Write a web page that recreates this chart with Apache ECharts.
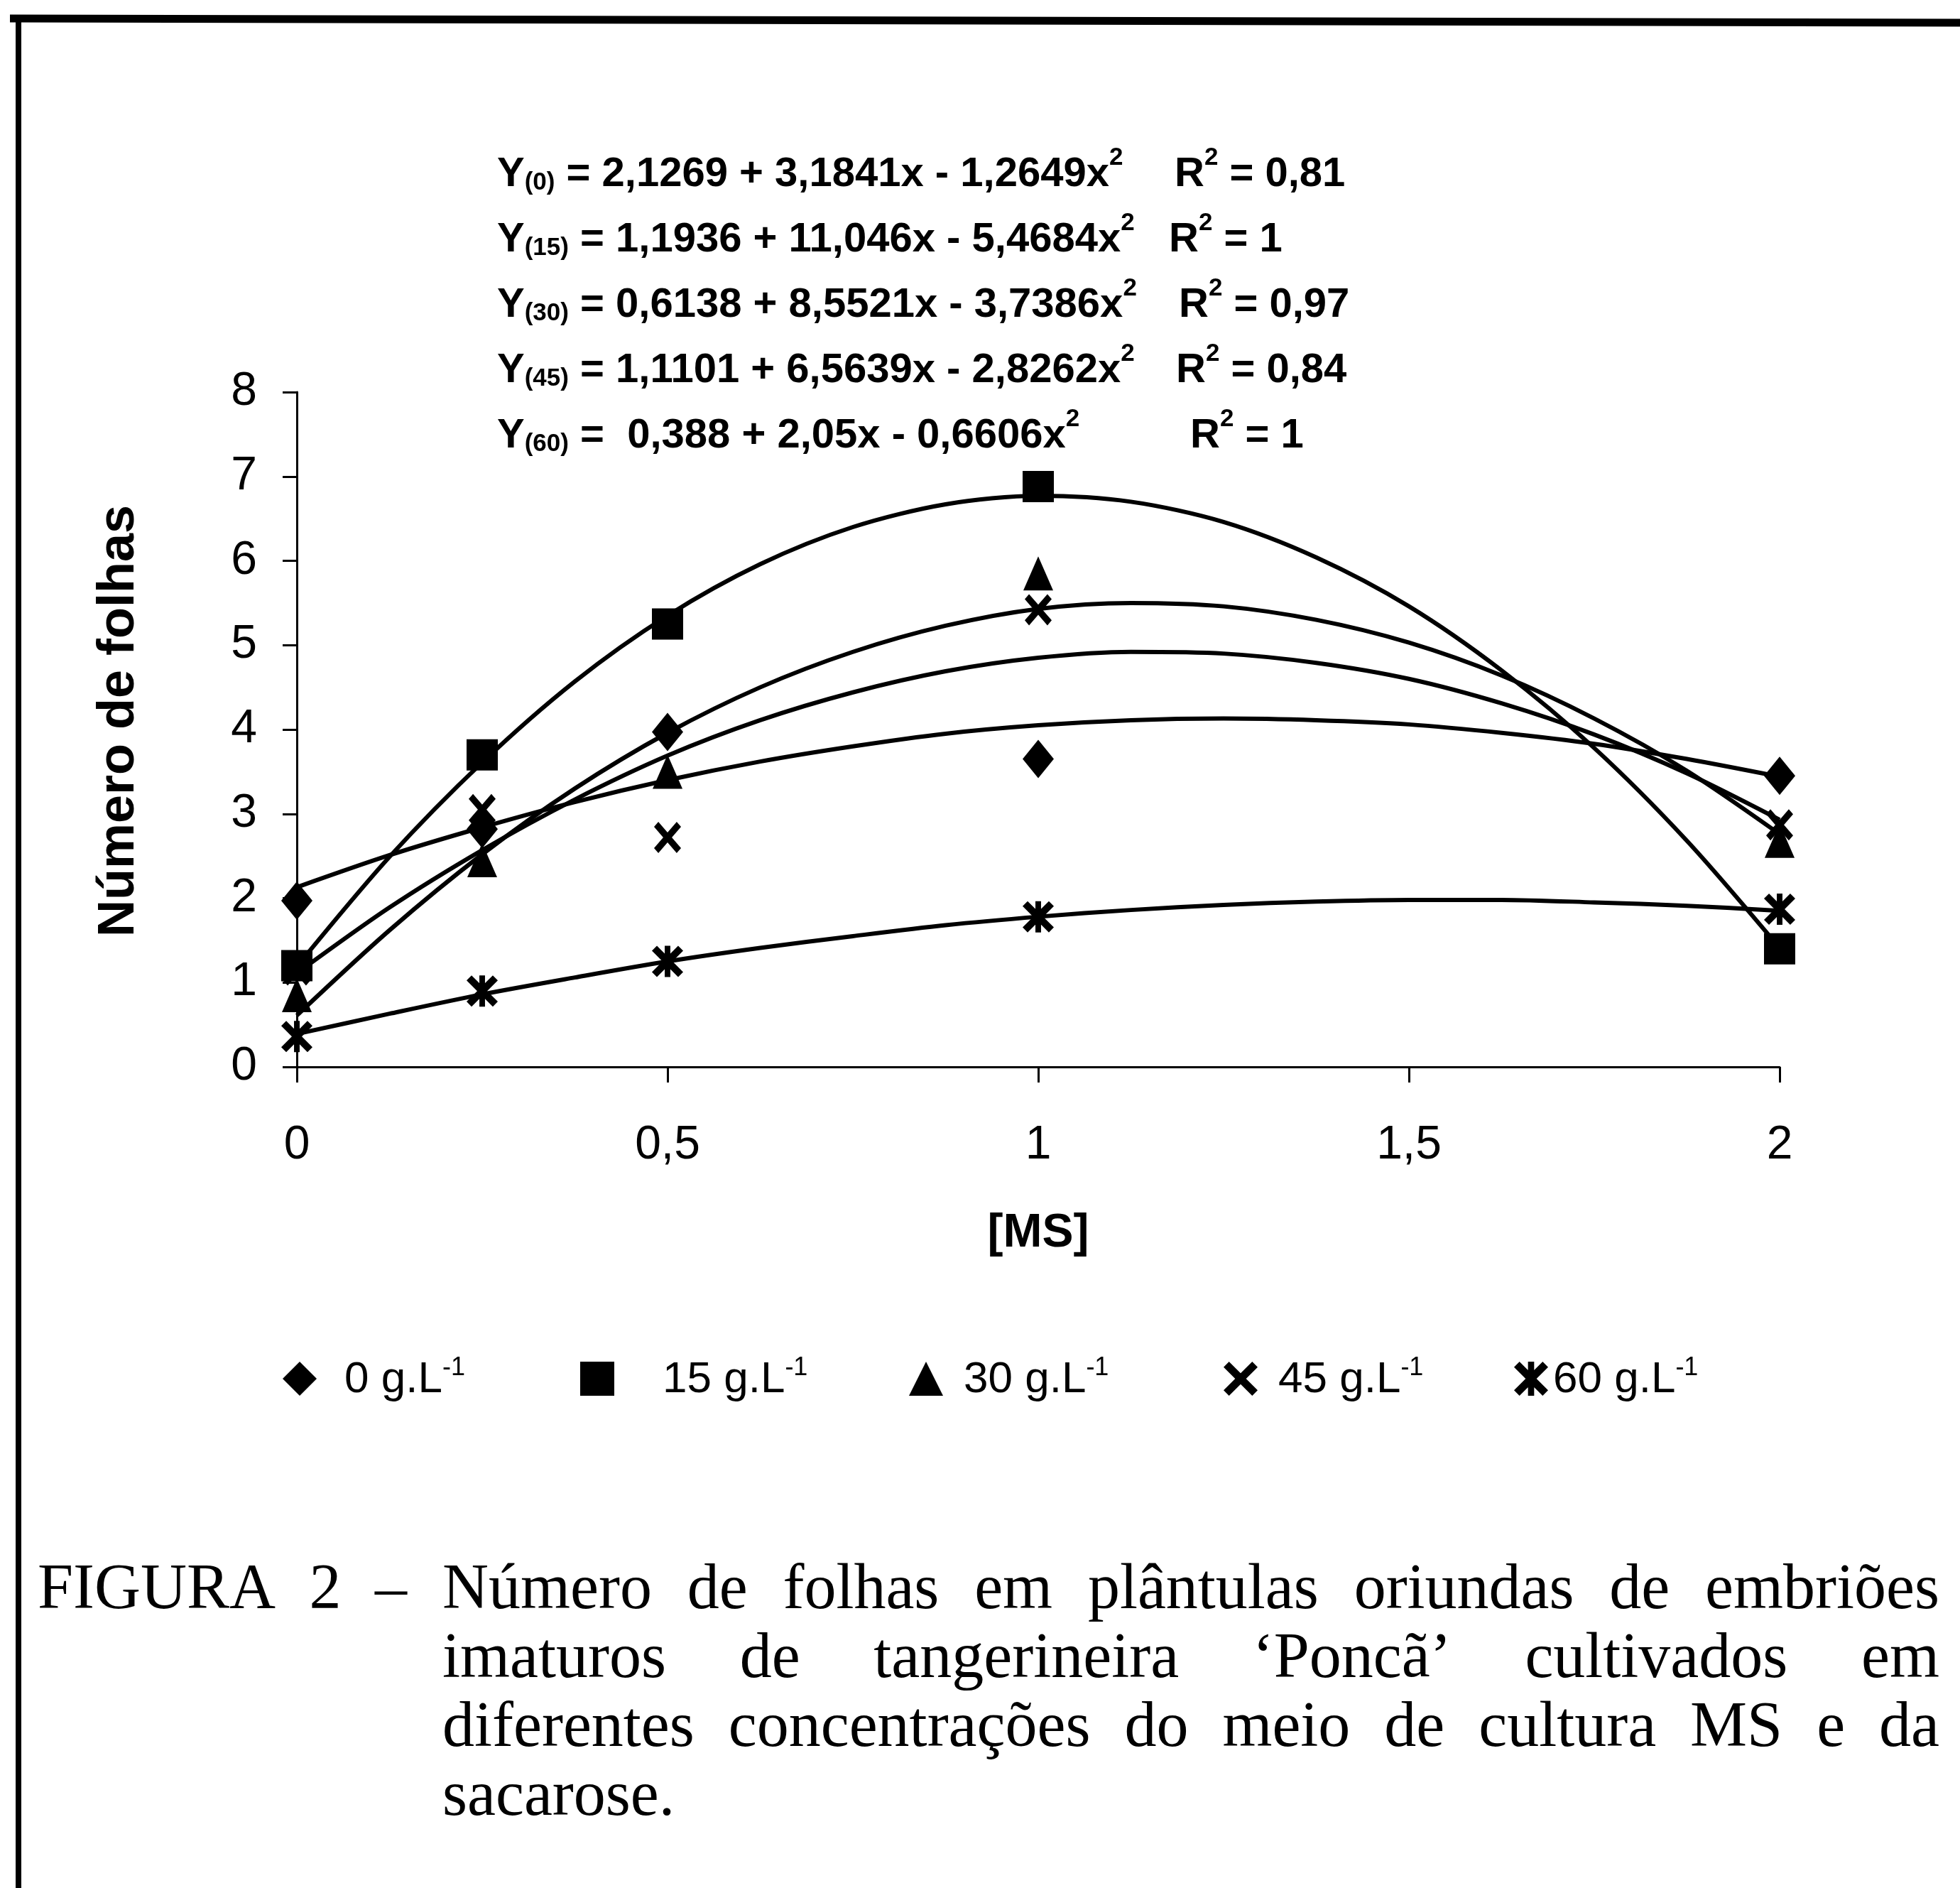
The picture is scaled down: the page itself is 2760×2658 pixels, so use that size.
<!DOCTYPE html>
<html>
<head>
    <meta charset="utf-8">
    <title>Número de folhas</title>
    <script src="https://cdn.jsdelivr.net/npm/echarts@6/dist/echarts.min.js"></script>
    <style>html, body { margin: 0; padding: 0; background: #fff; }</style>
</head>
<body>
<div id="main" style="width: 2760px;height:2658px;"></div>
<script type="text/javascript">
  // valores
  var msLevels = [0, 0.25, 0.5, 1, 2];
  var seriesNames = ['0 g.L-1', '15 g.L-1', '30 g.L-1', '45 g.L-1', '60 g.L-1'];
  var obs0 = [1.97, 2.82, 3.97, 3.65, 3.45];
  var obs15 = [1.2, 3.7, 5.25, 6.88, 1.4];
  var obs30 = [0.85, 2.45, 3.5, 5.85, 2.68];
  var obs45 = [1.15, 3.05, 2.72, 5.42, 2.87];
  var obs60 = [0.36, 0.9, 1.25, 1.78, 1.87];

  // linhas de tendência (lidas ao longo das curvas)
  var trendX = [0, 0.125, 0.25, 0.375, 0.5, 0.625, 0.75, 0.875, 1, 1.125, 1.25, 1.375, 1.5, 1.625, 1.75, 1.875, 2];
  var trend0 = [2.13, 2.51, 2.84, 3.14, 3.40, 3.62, 3.80, 3.95, 4.05, 4.11, 4.13, 4.11, 4.06, 3.96, 3.83, 3.65, 3.44];
  var trend15 = [1.19, 2.49, 3.61, 4.57, 5.35, 5.96, 6.40, 6.67, 6.77, 6.70, 6.46, 6.04, 5.46, 4.70, 3.78, 2.68, 1.41];
  var trend30 = [0.61, 1.62, 2.52, 3.30, 3.96, 4.50, 4.92, 5.23, 5.43, 5.50, 5.46, 5.30, 5.03, 4.64, 4.13, 3.51, 2.76];
  var trend45 = [1.11, 1.89, 2.57, 3.17, 3.69, 4.11, 4.44, 4.69, 4.85, 4.92, 4.90, 4.79, 4.60, 4.31, 3.94, 3.48, 2.93];
  var trend60 = [0.39, 0.63, 0.86, 1.06, 1.25, 1.41, 1.55, 1.68, 1.78, 1.86, 1.92, 1.96, 1.98, 1.98, 1.95, 1.91, 1.85];

  // equações
  var eqIndex = ['(0)', '(15)', '(30)', '(45)', '(60)'];
  var eqBody = [' = 2,1269 + 3,1841x - 1,2649x', ' = 1,1936 + 11,046x - 5,4684x', ' = 0,6138 + 8,5521x - 3,7386x',
    ' = 1,1101 + 6,5639x - 2,8262x', ' =  0,388 + 2,05x - 0,6606x'];
  var r2Values = ['0,81', '1', '0,97', '0,84', '1'];

  var captionLabel = 'FIGURA 2 –';
  var captionLines = [
    'Número de folhas em plântulas oriundas de embriões',
    'imaturos de tangerineira ‘Poncã’ cultivados em',
    'diferentes concentrações do meio de cultura MS e da',
    'sacarose.'
  ];

  var allObs = [obs0, obs15, obs30, obs45, obs60];
  var allTrend = [trend0, trend15, trend30, trend45, trend60];
  var crossPath = 'M0,1.6 L1.6,0 L5,3.4 L8.4,0 L10,1.6 L6.6,5 L10,8.4 L8.4,10 L5,6.6 L1.6,10 L0,8.4 L3.4,5 Z';
  var symbols = ['diamond', 'rect', 'triangle',
    'path://' + crossPath,
    'path://' + crossPath + ' M4.1,0 L5.9,0 L5.9,10 L4.1,10 Z'];
  var symbolSizes = [[44, 54], [44, 44], [42, 48], [38, 44], [44, 44]];

  var myChart = echarts.init(document.getElementById('main'));

  var series = [];
  allTrend.forEach(function (t, i) {
    series.push({
      name: seriesNames[i] + ' tendência',
      type: 'line',
      smooth: 0.3,
      showSymbol: false,
      silent: true,
      lineStyle: { color: '#000', width: 6 },
      data: trendX.map(function (x, k) { return [x, t[k]]; }),
      z: 2
    });
  });
  allObs.forEach(function (o, i) {
    series.push({
      name: seriesNames[i],
      type: 'scatter',
      symbol: symbols[i],
      symbolSize: symbolSizes[i],
      itemStyle: { color: '#000', opacity: 1 },
      data: msLevels.map(function (x, k) { return [x, o[k]]; }),
      z: 3
    });
  });

  // legenda: um componente por item
  var legendIconX = [417, 836, 1299, 1742, 2151];
  var legendTextX = [480, 928, 1352, 1795, 2182];
  var legends = seriesNames.map(function (n, i) {
    return {
      data: [n],
      left: legendIconX[i] - 24,
      top: 1903,
      itemWidth: 48,
      itemHeight: 48,
      itemGap: 0,
      selectedMode: false,
      icon: symbols[i],
      formatter: function (name) {
        return '{t|' + name.replace('-1', '') + '}{u|-1}';
      },
      textStyle: {
        padding: [0, 0, 0, legendTextX[i] - (legendIconX[i] + 29)],
        rich: {
          t: { fontSize: 62, fontFamily: 'Liberation Sans', color: '#000', lineHeight: 66, verticalAlign: 'bottom' },
          u: { fontSize: 36, fontFamily: 'Liberation Sans', color: '#000', lineHeight: 34, verticalAlign: 'top' }
        }
      }
    };
  });

  // textos das equações
  var eqRich = {
    m: { fontSize: 58, fontWeight: 'bold', fontFamily: 'Liberation Sans', fill: '#000', lineHeight: 70, verticalAlign: 'bottom' },
    s: { fontSize: 35, fontWeight: 'bold', fontFamily: 'Liberation Sans', fill: '#000', lineHeight: 32, verticalAlign: 'bottom' },
    p: { fontSize: 35, fontWeight: 'bold', fontFamily: 'Liberation Sans', fill: '#000', lineHeight: 32, verticalAlign: 'top' }
  };
  var eqY = [240, 332, 424, 516, 608];
  var r2X = [1654, 1646, 1660, 1656, 1676];
  var graphics = [];
  eqBody.forEach(function (b, i) {
    graphics.push({
      type: 'text', x: 700, y: eqY[i],
      style: { text: '{m|Y}{s|' + eqIndex[i] + '}{m|' + b + '}{p|2}', rich: eqRich, verticalAlign: 'middle', align: 'left' }
    });
    graphics.push({
      type: 'text', x: r2X[i], y: eqY[i],
      style: { text: '{m|R}{p|2}{m| = ' + r2Values[i] + '}', rich: eqRich, verticalAlign: 'middle', align: 'left' }
    });
  });

  // legenda da figura, justificada
  var capFont = '90px "Liberation Serif"';
  var ctx = document.createElement('canvas').getContext('2d');
  ctx.font = capFont;
  function placeLine(text, x0, x1, y, justify) {
    var words = text.split(' ');
    var widths = words.map(function (w) { return ctx.measureText(w).width; });
    var total = widths.reduce(function (a, b) { return a + b; }, 0);
    var gap = justify && words.length > 1 ? (x1 - x0 - total) / (words.length - 1) : ctx.measureText(' ').width;
    var x = x0;
    words.forEach(function (w, k) {
      graphics.push({
        type: 'text', x: x, y: y,
        style: { text: w, font: capFont, fill: '#000', verticalAlign: 'middle', align: 'left' }
      });
      x += widths[k] + gap;
    });
  }
  var capY = [2240, 2337, 2434, 2531];
  placeLine(captionLabel, 53, 573, capY[0], true);
  captionLines.forEach(function (l, i) {
    placeLine(l, 623, 2731, capY[i], i < captionLines.length - 1);
  });

  // moldura
  graphics.push({ type: 'line', shape: { x1: 14, y1: 26, x2: 2760, y2: 32 }, style: { stroke: '#000', lineWidth: 11 } });
  graphics.push({ type: 'line', shape: { x1: 26, y1: 22, x2: 26, y2: 2658 }, style: { stroke: '#000', lineWidth: 8 } });

  option = {
    backgroundColor: '#fff',
    animation: false,
    textStyle: { fontFamily: 'Liberation Sans', color: '#000' },
    grid: { left: 418, right: 254, top: 552, bottom: 1156, containLabel: false, outerBoundsMode: 'none' },
    xAxis: {
      type: 'value', min: 0, max: 2, interval: 0.5,
      name: '[MS]', nameLocation: 'middle', nameGap: 202,
      nameTextStyle: { fontSize: 66, fontWeight: 'bold', color: '#000', fontFamily: 'Liberation Sans' },
      axisLine: { lineStyle: { color: '#000', width: 3 } },
      axisTick: { show: true, length: 22, lineStyle: { color: '#000', width: 3 } },
      axisLabel: {
        fontSize: 66, color: '#000', margin: 78, fontFamily: 'Liberation Sans',
        formatter: function (v) { return String(v).replace('.', ','); }
      },
      splitLine: { show: false }
    },
    yAxis: {
      type: 'value', min: 0, max: 8, interval: 1,
      name: 'Número de folhas', nameLocation: 'middle', nameGap: 214,
      nameTextStyle: { fontSize: 72, fontWeight: 'bold', color: '#000', fontFamily: 'Liberation Sans', padding: [0, 0, 0, 24] },
      axisLine: { show: true, lineStyle: { color: '#000', width: 3 } },
      axisTick: { show: true, length: 20, lineStyle: { color: '#000', width: 3 } },
      axisLabel: { fontSize: 66, color: '#000', margin: 56, fontFamily: 'Liberation Sans' },
      splitLine: { show: false }
    },
    legend: legends,
    graphic: graphics,
    series: series
  };
  myChart.setOption(option);
</script>
</body>
</html>
